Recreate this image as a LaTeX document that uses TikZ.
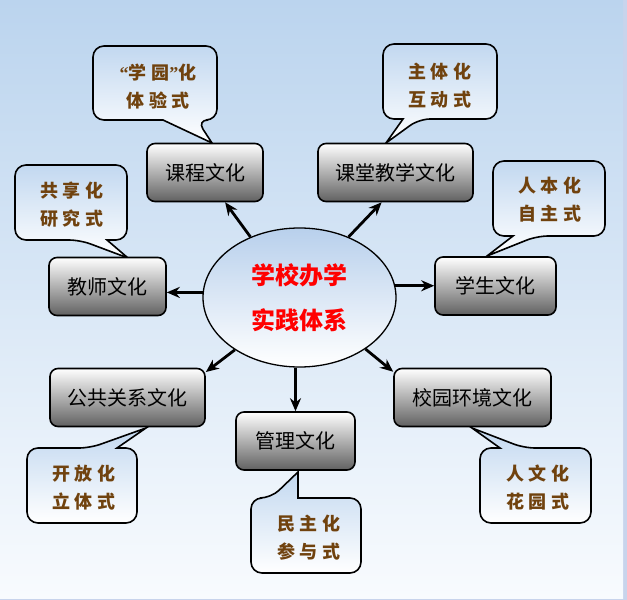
\documentclass[tikz,border=0pt]{standalone}
\usepackage{fontspec}
\newfontfamily\hei{Noto Sans CJK SC}
\newfontfamily\kai[LetterSpace=26]{Noto Sans CJK SC}
\newfontfamily\quo{Liberation Serif}
\usepackage{xcolor}
\usetikzlibrary{shapes.geometric, arrows.meta}
\definecolor{bgtop}{RGB}{187,212,238}
\definecolor{bgbot}{RGB}{248,251,254}
\definecolor{edge}{RGB}{200,212,236}
\definecolor{bubtop}{RGB}{194,216,240}
\definecolor{ovaltop}{RGB}{184,208,236}
\definecolor{browninc}{RGB}{112,66,14}
\tikzset{>={Stealth[length=13pt,width=11pt]}}
\tikzset{
  culture/.style={draw=black, line width=1.6pt, rounded corners=8pt,
    top color=white, bottom color=black!62, minimum height=58pt,
    inner sep=0pt, font=\hei\fontsize{20}{24}\selectfont},
  bubble/.style={draw=black, line width=1.6pt, rounded corners=11pt,
    top color=bubtop, bottom color=white},
  note/.style={align=center, text=browninc,
    font=\kai\bfseries\fontsize{18}{28}\selectfont},
  link/.style={->, line width=2.8pt}
}

\begin{document}
\begin{tikzpicture}[x=1pt, y=-1pt]
\useasboundingbox (0,0) rectangle (627,600);
\fill[edge] (0,0) rectangle (627,600);
\shade[top color=bgtop, bottom color=bgbot] (0,0) rectangle (623,598);

% speech bubbles
\draw[bubble] (217,83) -- (217,120) -- (197,120) [sharp corners] -- (212,143) -- (163,120) [rounded corners=11pt] -- (93,120) -- (93,46) -- (217,46) -- cycle;
\draw[bubble] (497,82) -- (497,119) -- (419,119) [sharp corners] -- (386,143) -- (403,119) [rounded corners=11pt] -- (383,119) -- (383,44) -- (497,44) -- cycle;
\draw[bubble] (15,202) -- (15,240) -- (80,240) [sharp corners] -- (128,258) -- (107,240) [rounded corners=11pt] -- (127,240) -- (127,165) -- (15,165) -- cycle;
\draw[bubble] (605,198) -- (605,236) -- (537,236) [sharp corners] -- (487,256) -- (513,236) [rounded corners=11pt] -- (493,236) -- (493,161) -- (605,161) -- cycle;
\draw[bubble] (27,485) -- (27,448) -- (90,448) [sharp corners] -- (146,428) -- (117,448) [rounded corners=11pt] -- (137,448) -- (137,523) -- (27,523) -- cycle;
\draw[bubble] (251,535) -- (251,498) -- (271,498) [sharp corners] -- (298,472) -- (298,498) [rounded corners=11pt] -- (361,498) -- (361,573) -- (251,573) -- cycle;
\draw[bubble] (591,485) -- (591,448) -- (524,448) [sharp corners] -- (472,428) -- (500,448) [rounded corners=11pt] -- (480,448) -- (480,523) -- (591,523) -- cycle;

\node[note] (kechengnote) at (158,86.5) {{\quo“}学园{\quo”}化\\体验式};
\node[note] (ketangnote) at (440,86) {主体化\\互动式};
\node[note] (jiaoshinote) at (72,205) {共享化\\研究式};
\node[note] (xueshengnote) at (550,200) {人本化\\自主式};
\node[note] (gonggongnote) at (84,487.5) {开放化\\立体式};
\node[note] (guanlinote) at (309,538) {民主化\\参与式};
\node[note] (xiaoyuannote) at (538,487.5) {人文化\\花园式};

% centre and the seven cultures
\node[ellipse, draw=black, line width=1.3pt, top color=ovaltop, bottom color=white,
  minimum width=193pt, minimum height=139pt, inner sep=0pt, align=center, text=red,
  font=\hei\bfseries\fontsize{24}{45}\selectfont] (core) at (299.5,297.5) {学校办学\\实践体系};

\node[culture, minimum width=116pt] (kecheng) at (205,172.5) {课程文化};
\node[culture, minimum width=155pt] (ketang) at (395.5,172.5) {课堂教学文化};
\node[culture, minimum width=117pt] (jiaoshi) at (107.5,286.5) {教师文化};
\node[culture, minimum width=121pt] (xuesheng) at (495.5,286) {学生文化};
\node[culture, minimum width=155pt] (gonggong) at (127.5,397.5) {公共关系文化};
\node[culture, minimum width=119pt] (guanli) at (295.5,441) {管理文化};
\node[culture, minimum width=157pt] (xiaoyuan) at (472.5,397.5) {校园环境文化};

\draw[link] (core.129) -- (kecheng.-56);
\draw[link] (core.51) -- (ketang.245);
\draw[link] (core.177) -- (core.177 -| jiaoshi.east);
\draw[link] (core.7) -- (core.7 -| xuesheng.west);
\draw[link] (core.219) -- (gonggong.18);
\draw[link] (core.south -| guanli.north) -- (guanli.north);
\draw[link] (core.322) -- (xiaoyuan.162);
\end{tikzpicture}
\end{document}
